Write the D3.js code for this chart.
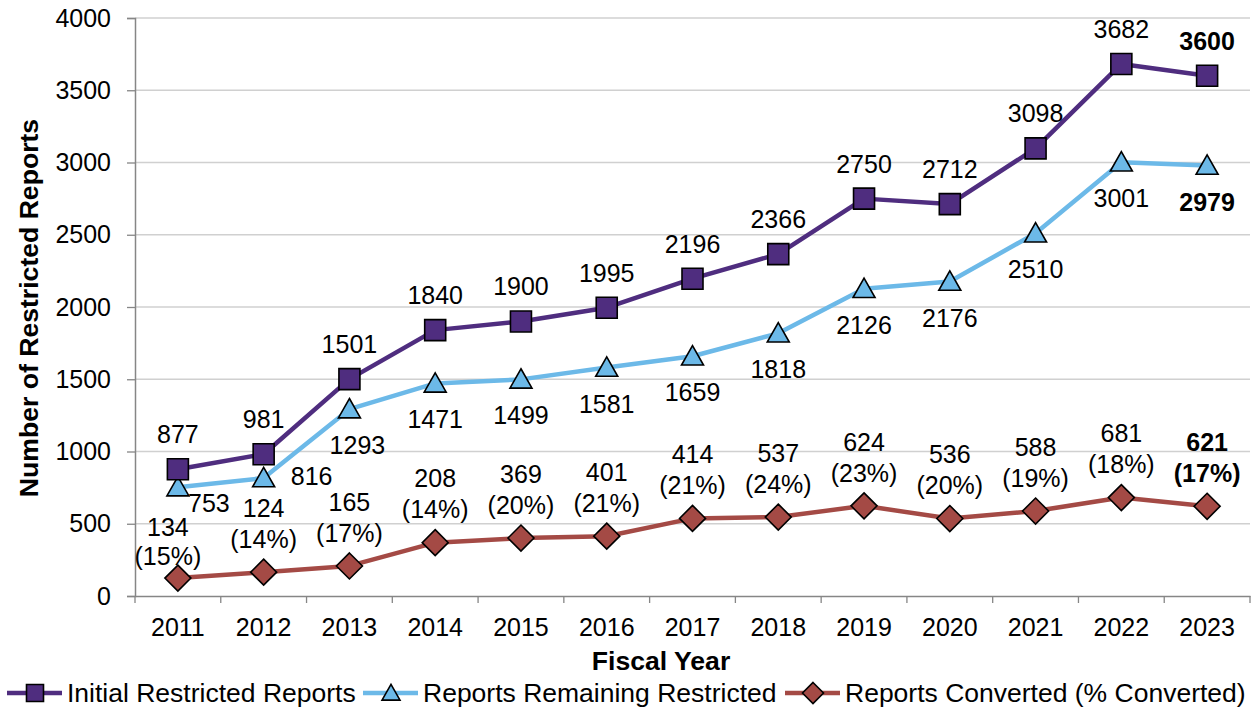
<!DOCTYPE html>
<html>
<head>
<meta charset="utf-8">
<script src="https://cdn.jsdelivr.net/npm/d3@7"></script>
<style>
  body { margin: 0; background: #fff; }
  svg text { font-family: "Liberation Sans", Arial, sans-serif; fill: #000; }
</style>
</head>
<body>
<div id="chart"></div>
<script>
// 数据
var years = ["2011","2012","2013","2014","2015","2016","2017","2018","2019","2020","2021","2022","2023"];
var initialReports = [877, 981, 1501, 1840, 1900, 1995, 2196, 2366, 2750, 2712, 3098, 3682, 3600];
var remainingReports = [753, 816, 1293, 1471, 1499, 1581, 1659, 1818, 2126, 2176, 2510, 3001, 2979];
// converted points as drawn, and the labels as printed
var convertedReports = [124, 165, 208, 369, 401, 414, 537, 546, 624, 536, 588, 681, 621];
var convertedLabels = ["134", "124", "165", "208", "369", "401", "414", "537", "624", "536", "588", "681", "621"];
var convertedPct = ["15%", "14%", "17%", "14%", "20%", "21%", "21%", "24%", "23%", "20%", "19%", "18%", "17%"];
var yTicks = [0, 500, 1000, 1500, 2000, 2500, 3000, 3500, 4000];
var seriesNames = ["Initial Restricted Reports", "Reports Remaining Restricted", "Reports Converted (% Converted)"];

(function() {
  var w = 1253, h = 710;
  var mLeft = 135, mRight = 1250, mTop = 18, mBottom = 596;
  var fs = 25;

  var colPurple = "#4f2d7f", colBlue = "#6cb9e8", colRed = "#a44a45";

  var svg = d3.select("#chart").append("svg")
    .attr("width", w).attr("height", h);

  var x = d3.scaleBand().domain(years).range([mLeft, mRight]);
  var y = d3.scaleLinear().domain([0, 4000]).range([mBottom, mTop]);
  var cx = d => x(d) + x.bandwidth() / 2;

  // 网格线
  svg.append("g").selectAll("line")
    .data(yTicks.slice(1)).enter().append("line")
    .attr("x1", mLeft).attr("x2", mRight)
    .attr("y1", d => y(d)).attr("y2", d => y(d))
    .attr("stroke", "#d0d0d0").attr("stroke-width", 1.3);

  // y axis
  var yAxis = svg.append("g").attr("transform", "translate(" + mLeft + ",0)")
    .call(d3.axisLeft(y).tickValues(yTicks).tickFormat(d3.format("d")).tickSize(8).tickPadding(16));
  yAxis.select(".domain").attr("stroke", "#868686").attr("stroke-width", 1.5);
  yAxis.selectAll(".tick line").attr("stroke", "#868686").attr("stroke-width", 1.3);
  yAxis.selectAll(".tick text").attr("font-size", fs).attr("font-family", "Liberation Sans").attr("fill", "#000");

  // x axis
  var xAxis = svg.append("g").attr("transform", "translate(0," + mBottom + ")")
    .call(d3.axisBottom(x).tickSize(0).tickPadding(0));
  xAxis.select(".domain").attr("stroke", "#868686").attr("stroke-width", 1.5);
  xAxis.selectAll(".tick text").attr("font-size", fs).attr("font-family", "Liberation Sans").attr("fill", "#000")
    .attr("y", 31).attr("dy", null).attr("dominant-baseline", "central");
  // 刻度线在类别边界上
  svg.append("g").selectAll("line")
    .data(d3.range(years.length + 1)).enter().append("line")
    .attr("x1", i => mLeft + i * x.bandwidth()).attr("x2", i => mLeft + i * x.bandwidth())
    .attr("y1", mBottom).attr("y2", mBottom + 7)
    .attr("stroke", "#868686").attr("stroke-width", 1.3);

  // axis titles
  svg.append("text")
    .attr("transform", "translate(29," + ((mTop + mBottom) / 2 + 1) + ") rotate(-90)")
    .attr("text-anchor", "middle").attr("dominant-baseline", "central")
    .attr("font-size", 26.6).attr("font-weight", "bold")
    .text("Number of Restricted Reports");
  svg.append("text")
    .attr("x", 661).attr("y", 661)
    .attr("text-anchor", "middle").attr("dominant-baseline", "central")
    .attr("font-size", 26.6).attr("font-weight", "bold")
    .text("Fiscal Year");

  // markers
  function squarePath(s) { return "M" + (-s/2) + "," + (-s/2) + "h" + s + "v" + s + "h" + (-s) + "Z"; }
  function trianglePath(s) { var hh = s * 0.88; return "M0," + (-hh*0.55) + "L" + (s/2) + "," + (hh*0.45) + "L" + (-s/2) + "," + (hh*0.45) + "Z"; }
  function diamondPath(s) { return "M0," + (-s/2) + "L" + (s/2) + ",0L0," + (s/2) + "L" + (-s/2) + ",0Z"; }

  var series = [
    { vals: convertedReports, color: colRed, shape: diamondPath, size: 26 },
    { vals: remainingReports, color: colBlue, shape: trianglePath, size: 22 },
    { vals: initialReports, color: colPurple, shape: squarePath, size: 21 }
  ];

  var line = d3.line().x((d, i) => cx(years[i])).y(d => y(d));

  series.forEach(function(s) {
    svg.append("path").datum(s.vals)
      .attr("d", line).attr("fill", "none")
      .attr("stroke", s.color).attr("stroke-width", 4.5)
      .attr("stroke-linejoin", "round");
    svg.append("g").selectAll("path")
      .data(s.vals).enter().append("path")
      .attr("d", s.shape(s.size))
      .attr("transform", (d, i) => "translate(" + cx(years[i]) + "," + y(d) + ")")
      .attr("fill", s.color).attr("stroke", "#000").attr("stroke-width", 1.6);
  });

  var last = years.length - 1;

  // 标签: initial (above)
  svg.append("g").selectAll("text")
    .data(initialReports).enter().append("text")
    .attr("x", (d, i) => cx(years[i]))
    .attr("y", d => y(d) - 35)
    .attr("text-anchor", "middle").attr("dominant-baseline", "central")
    .attr("font-size", fs)
    .attr("font-weight", (d, i) => i == last ? "bold" : "normal")
    .text(d => d);

  // remaining (below, first two to the right)
  svg.append("g").selectAll("text")
    .data(remainingReports).enter().append("text")
    .attr("x", (d, i) => cx(years[i]) + (i == 0 ? 31 : i == 1 ? 48 : i == 2 ? 8 : 0))
    .attr("y", (d, i) => y(d) + (i == 0 ? 16 : i == 1 ? -2 : 36))
    .attr("text-anchor", "middle").attr("dominant-baseline", "central")
    .attr("font-size", fs)
    .attr("font-weight", (d, i) => i == last ? "bold" : "normal")
    .text(d => d);

  // converted (two lines above)
  var convG = svg.append("g").selectAll("text")
    .data(convertedReports).enter().append("text")
    .attr("text-anchor", "middle")
    .attr("font-size", fs)
    .attr("font-weight", (d, i) => i == last ? "bold" : "normal");
  convG.append("tspan")
    .attr("x", (d, i) => cx(years[i]) + (i == 0 ? -10 : 0))
    .attr("y", (d, i) => y(d) - (i == 0 ? 51 : 64))
    .attr("dy", "0.35em")
    .text((d, i) => convertedLabels[i]);
  convG.append("tspan")
    .attr("x", (d, i) => cx(years[i]) + (i == 0 ? -10 : 0))
    .attr("y", (d, i) => y(d) - (i == 0 ? 22 : 33))
    .attr("dy", "0.35em")
    .text((d, i) => "(" + convertedPct[i] + ")");

  // legend
  var legendX = [7, 363, 785];
  var legendShapes = [
    { color: colPurple, shape: squarePath, size: 17 },
    { color: colBlue, shape: trianglePath, size: 18 },
    { color: colRed, shape: diamondPath, size: 21 }
  ];
  var legend = svg.append("g").selectAll("g")
    .data(seriesNames).enter().append("g")
    .attr("transform", (d, i) => "translate(" + legendX[i] + ",693)");
  legend.append("line")
    .attr("x1", 0).attr("x2", 55).attr("y1", 0).attr("y2", 0)
    .attr("stroke", (d, i) => legendShapes[i].color).attr("stroke-width", 4.5);
  legend.append("path")
    .attr("d", (d, i) => legendShapes[i].shape(legendShapes[i].size))
    .attr("transform", "translate(28,0)")
    .attr("fill", (d, i) => legendShapes[i].color)
    .attr("stroke", "#000").attr("stroke-width", 1.6);
  legend.append("text")
    .attr("x", 60).attr("y", 0)
    .attr("dominant-baseline", "central")
    .attr("font-size", 26.5)
    .text(d => d);
})();
</script>
</body>
</html>
